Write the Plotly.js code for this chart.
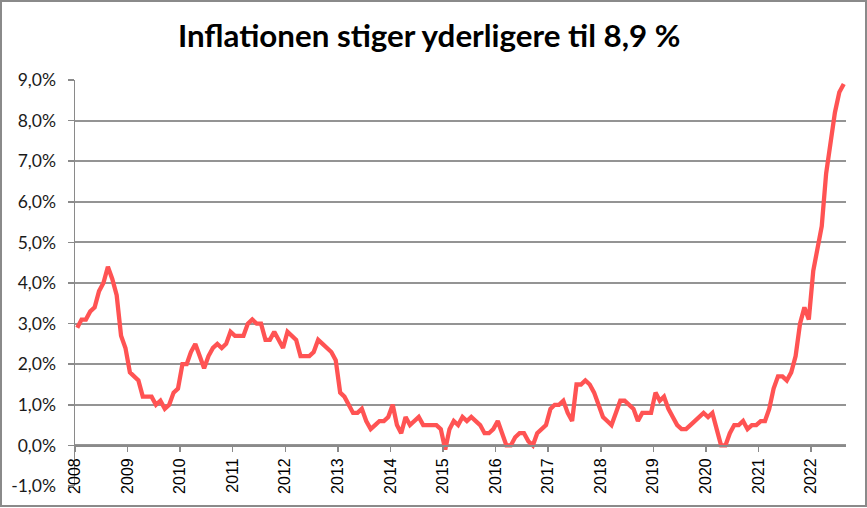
<!DOCTYPE html>
<html>
<head>
<meta charset="utf-8">
<script src="https://cdn.plot.ly/plotly-3.0.1.min.js"></script>
<style>
  html, body { margin: 0; padding: 0; background: #fff; }
  #wrap { position: relative; width: 867px; height: 508px; }
  #chart { width: 867px; height: 508px; }
  #frame { position: absolute; left: 0; top: 0; width: 867px; height: 507px; box-sizing: border-box; border: 2px solid #8a8a8a; pointer-events: none; }
</style>
</head>
<body>
<div id="wrap">
  <div id="chart"></div>
  <div id="frame"></div>
</div>
<script>
// Årlig inflation (forbrugerprisindeks), pct., januar 2008 - august 2022
const years = [2008, 2009, 2010, 2011, 2012, 2013, 2014, 2015, 2016, 2017, 2018, 2019, 2020, 2021, 2022];
const inflation = [
  // 2008
  2.9, 3.1, 3.1, 3.3, 3.4, 3.8, 4.0, 4.4, 4.1, 3.7, 2.7, 2.4,
  // 2009
  1.8, 1.7, 1.6, 1.2, 1.2, 1.2, 1.0, 1.1, 0.9, 1.0, 1.3, 1.4,
  // 2010
  2.0, 2.0, 2.3, 2.5, 2.2, 1.9, 2.2, 2.4, 2.5, 2.4, 2.5, 2.8,
  // 2011
  2.7, 2.7, 2.7, 3.0, 3.1, 3.0, 3.0, 2.6, 2.6, 2.8, 2.6, 2.4,
  // 2012
  2.8, 2.7, 2.6, 2.2, 2.2, 2.2, 2.3, 2.6, 2.5, 2.4, 2.3, 2.1,
  // 2013
  1.3, 1.2, 1.0, 0.8, 0.8, 0.9, 0.6, 0.4, 0.5, 0.6, 0.6, 0.7,
  // 2014
  1.0, 0.5, 0.3, 0.7, 0.5, 0.6, 0.7, 0.5, 0.5, 0.5, 0.5, 0.4,
  // 2015
  -0.1, 0.4, 0.6, 0.5, 0.7, 0.6, 0.7, 0.6, 0.5, 0.3, 0.3, 0.4,
  // 2016
  0.6, 0.3, 0.0, 0.0, 0.2, 0.3, 0.3, 0.1, 0.0, 0.3, 0.4, 0.5,
  // 2017
  0.9, 1.0, 1.0, 1.1, 0.8, 0.6, 1.5, 1.5, 1.6, 1.5, 1.3, 1.0,
  // 2018
  0.7, 0.6, 0.5, 0.8, 1.1, 1.1, 1.0, 0.9, 0.6, 0.8, 0.8, 0.8,
  // 2019
  1.3, 1.1, 1.2, 0.9, 0.7, 0.5, 0.4, 0.4, 0.5, 0.6, 0.7, 0.8,
  // 2020
  0.7, 0.8, 0.4, 0.0, 0.0, 0.3, 0.5, 0.5, 0.6, 0.4, 0.5, 0.5,
  // 2021
  0.6, 0.6, 0.9, 1.4, 1.7, 1.7, 1.6, 1.8, 2.2, 3.0, 3.4, 3.1,
  // 2022
  4.3, 4.8, 5.4, 6.7, 7.4, 8.2, 8.7, 8.9
];
const yTickValues = [-1, 0, 1, 2, 3, 4, 5, 6, 7, 8, 9];
const yTickLabels = ['-1,0%', '0,0%', '1,0%', '2,0%', '3,0%', '4,0%', '5,0%', '6,0%', '7,0%', '8,0%', '9,0%'];
const titleText = 'Inflationen stiger yderligere til 8,9 %';

const firstYear = years[0];
const pad = n => (n < 10 ? '0' + n : '' + n);
const months = inflation.map((_, i) => (firstYear + Math.floor(i / 12)) + '-' + pad(i % 12 + 1) + '-01');
const lastIdx = inflation.length; // one past last month
const rangeEnd = (firstYear + Math.floor(lastIdx / 12)) + '-' + pad(lastIdx % 12 + 1) + '-01';

const yMin = yTickValues[0];
const yMax = yTickValues[yTickValues.length - 1];

const trace = {
  x: months,
  y: inflation,
  type: 'scatter',
  mode: 'lines',
  xperiod: 'M1',
  xperiodalignment: 'middle',
  line: { color: '#ff5353', width: 4.3 },
  hoverinfo: 'skip'
};

const layout = {
  width: 867,
  height: 508,
  paper_bgcolor: '#ffffff',
  plot_bgcolor: '#ffffff',
  margin: { l: 75, r: 21, t: 80, b: 22, autoexpand: false },
  showlegend: false,
  title: {
    text: titleText,
    font: { family: 'Lato, "Open Sans", sans-serif', size: 31.3, color: '#000000', weight: 700 },
    x: 0.495, xref: 'container', xanchor: 'center',
    y: 1 - 36 / 508, yref: 'container', yanchor: 'middle'
  },
  xaxis: {
    type: 'date',
    range: [months[0], rangeEnd],
    tickmode: 'array',
    tickvals: years.map(y => y + '-01-01'),
    ticktext: years.map(String),
    tickangle: -90,
    ticks: 'outside',
    ticklen: 5,
    tickwidth: 1.5,
    tickcolor: '#8a8a8a',
    showline: true,
    linecolor: '#8a8a8a',
    linewidth: 1.5,
    showgrid: false,
    zeroline: false,
    anchor: 'free',
    position: (0 - yMin) / (yMax - yMin),
    tickfont: { family: '"Liberation Sans", Arial, sans-serif', size: 16, color: '#000000' },
    automargin: false,
    fixedrange: true
  },
  yaxis: {
    range: [yMin, yMax],
    tickmode: 'array',
    tickvals: yTickValues,
    ticktext: yTickLabels,
    ticks: 'outside',
    ticklen: 6,
    tickwidth: 1.5,
    tickcolor: '#8a8a8a',
    showline: true,
    linecolor: '#8a8a8a',
    linewidth: 1.5,
    showgrid: true,
    gridcolor: '#949494',
    gridwidth: 2,
    zeroline: false,
    ticklabelstandoff: 8,
    tickfont: { family: 'Lato, "Open Sans", sans-serif', size: 17.5, color: '#1a1a1a' },
    automargin: false,
    fixedrange: true
  }
};

Plotly.newPlot('chart', [trace], layout, { displayModeBar: false, staticPlot: true });
</script>
</body>
</html>
